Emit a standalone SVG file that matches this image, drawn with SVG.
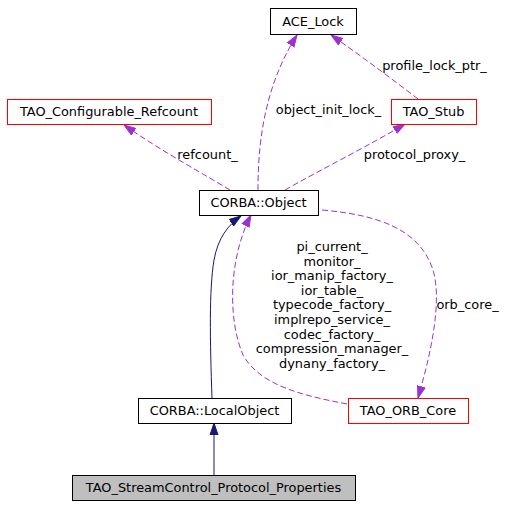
<svg xmlns="http://www.w3.org/2000/svg" width="515" height="507" viewBox="0 0 515 507">
<style>
text{font-family:"DejaVu Sans","Liberation Sans",sans-serif;font-size:12.9px;fill:#000}
.n{text-anchor:middle}
.box{fill:#fff;stroke:#000;stroke-width:1}
.red{fill:#fff;stroke:#ff0000;stroke-width:1}
.cur{fill:#bfbfbf;stroke:#000;stroke-width:1}
.use{fill:none;stroke:#9a32cd;stroke-width:1;stroke-dasharray:6,3}
.inh{fill:none;stroke:#191970;stroke-width:1}
</style>
<defs>
<marker id="ap" markerUnits="userSpaceOnUse" markerWidth="14" markerHeight="10" refX="12" refY="4" orient="auto" viewBox="0 0 14 8">
<polygon points="0,0 12,4 0,8" fill="#9a32cd" stroke="#9a32cd"/>
</marker>
<marker id="an" markerUnits="userSpaceOnUse" markerWidth="14" markerHeight="10" refX="12" refY="4" orient="auto" viewBox="0 0 14 8">
<polygon points="0,0 12,4 0,8" fill="#191970" stroke="#191970"/>
</marker>
</defs>
<g id="connectors">
<path class="use" marker-end="url(#ap)" d="M258,190 C258,150 262,90 297,35"/>
<path class="use" marker-end="url(#ap)" d="M418,99 C400,85 360,55 331,35"/>
<path class="use" marker-end="url(#ap)" d="M230,190 C200,172 160,150 124,125"/>
<path class="use" marker-end="url(#ap)" d="M285,190 C320,170 370,145 405,124"/>
<path class="use" marker-end="url(#ap)" d="M322,210 C380,215 420,230 433,270 C442,300 432,350 418,398"/>
<path class="use" marker-end="url(#ap)" d="M347,404 C300,395 260,385 243,355 C228,320 228,260 251,215"/>
<path class="inh" marker-end="url(#an)" d="M212,398 C210,340 209,290 214,260 C218,238 228,225 241,216"/>
<path class="inh" marker-end="url(#an)" d="M214,475 L214,423"/>
<text x="328.5" y="114" class="n">object_init_lock_</text>
<text x="434.5" y="70" class="n">profile_lock_ptr_</text>
<text x="207.5" y="159" class="n">refcount_</text>
<text x="414.5" y="159" class="n">protocol_proxy_</text>
<text x="467.5" y="309" class="n">orb_core_</text>
<text class="n" x="332" y="251">pi_current_</text>
<text class="n" x="332" y="265.6">monitor_</text>
<text class="n" x="332" y="280.2">ior_manip_factory_</text>
<text class="n" x="332" y="294.8">ior_table_</text>
<text class="n" x="332" y="309.4">typecode_factory_</text>
<text class="n" x="332" y="324">implrepo_service_</text>
<text class="n" x="332" y="338.6">codec_factory_</text>
<text class="n" x="332" y="353.2">compression_manager_</text>
<text class="n" x="332" y="367.8">dynany_factory_</text>
</g>
<g id="ACE_Lock"><rect class="box" x="270.5" y="8.5" width="86" height="26"/><text class="n" x="313" y="26">ACE_Lock</text></g>
<g id="TAO_Configurable_Refcount"><rect class="red" x="7.5" y="99.5" width="204" height="25"/><text class="n" x="109" y="116">TAO_Configurable_Refcount</text></g>
<g id="TAO_Stub"><rect class="red" x="391.5" y="99.5" width="85" height="25"/><text class="n" x="433.5" y="116">TAO_Stub</text></g>
<g id="CORBA_Object"><rect class="box" x="199.5" y="190.5" width="119" height="25"/><text class="n" x="258.5" y="207">CORBA::Object</text></g>
<g id="CORBA_LocalObject"><rect class="box" x="138.5" y="398.5" width="153" height="25"/><text class="n" x="214.5" y="415">CORBA::LocalObject</text></g>
<g id="TAO_ORB_Core"><rect class="red" x="348.5" y="398.5" width="120" height="25"/><text class="n" x="408" y="415">TAO_ORB_Core</text></g>
<g id="TAO_StreamControl_Protocol_Properties"><rect class="cur" x="72.5" y="475.5" width="283" height="25"/><text class="n" x="213.5" y="492">TAO_StreamControl_Protocol_Properties</text></g>
</svg>
